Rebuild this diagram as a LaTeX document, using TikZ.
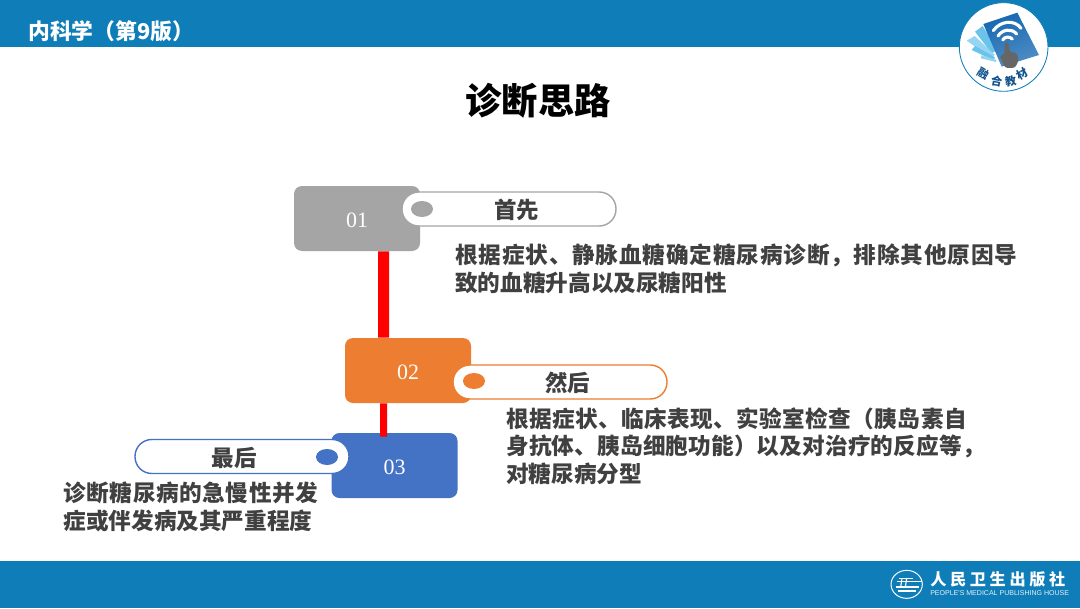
\documentclass[tikz,border=0pt]{standalone}
\usepackage{fontspec}
\setmainfont{Noto Sans CJK SC}
\newfontfamily\numfont{Liberation Serif}
\newfontfamily\latinfont{Liberation Sans}
\usetikzlibrary{arrows.meta,positioning,calc,shapes.geometric}
\definecolor{bandblue}{RGB}{15,125,184}
\definecolor{txtgray}{RGB}{64,64,64}
\definecolor{stepgray}{RGB}{165,165,165}
\definecolor{steporange}{RGB}{237,125,49}
\definecolor{stepblue}{RGB}{68,114,196}
\definecolor{bookblue}{RGB}{22,104,178}
\definecolor{fanblue}{RGB}{105,195,235}
\newcommand{\stepnum}[1]{\raisebox{-6.7pt}[0pt][0pt]{#1}}
\newcommand{\wideline}[2]{{\addfontfeatures{LetterSpace=#1}#2}}
\begin{document}
\begin{tikzpicture}[
    band/.style={fill=bandblue, draw=none},
    stepbox/.style={rounded corners=0.2cm, minimum width=3.15cm, minimum height=1.625cm, inner sep=0pt, text=white, font=\numfont\fontsize{15.6}{18}\selectfont},
    pill/.style={draw=#1, fill=white, line width=1pt, rounded corners=0.42cm, minimum width=5.35cm, minimum height=0.85cm, inner sep=0pt},
    dot/.style={ellipse, fill=#1, minimum width=0.55cm, minimum height=0.4cm, inner sep=0pt},
    pilltext/.style={text=txtgray, inner sep=0pt, font=\bfseries\fontsize{16}{19}\selectfont},
    bodytext/.style={text=txtgray, inner sep=0pt, align=left, anchor=west, font=\bfseries\fontsize{16.1}{19.7}\selectfont},
    logotext/.style={text=bookblue!80!black, inner sep=0pt, font=\bfseries\fontsize{8}{9}\selectfont},
    link/.style={draw=red, line width=#1}
]
    \useasboundingbox (0,0) rectangle (27,15.2);
    \fill[white] (0,0) rectangle (27,15.2);
    \fill[band] (0,14.025) rectangle (27,15.2);
    \fill[band] (0,0) rectangle (27,1.18);

    \node[text=white, inner sep=0pt, anchor=west, font=\bfseries\fontsize{15.5}{18}\selectfont] (course) at (0.7,14.425) {内科学（第9版）};
    \node[inner sep=0pt, font=\bfseries\fontsize{25.8}{30}\selectfont] (title) at (13.45,12.675) {诊断思路};

    \node[stepbox, fill=stepgray] (box1) at (8.925,9.7375) {\stepnum{01}};
    \node[stepbox, fill=steporange] (box2) at (10.2,5.9375) {\stepnum{02}};
    \node[stepbox, fill=stepblue] (box3) at (9.8625,3.5625) {\stepnum{03}};

    \draw[link=0.275cm] ([xshift=0.6625cm]box1.south) -- ([xshift=-0.6125cm]box2.north);
    \draw[link=0.175cm] ([xshift=-0.6125cm]box2.south) -- ([xshift=-0.275cm,yshift=-0.1cm]box3.north);

    \node[pill=stepgray] (pill1) at (12.725,9.975) {};
    \node[pill=steporange] (pill2) at (14,5.65) {};
    \node[pill=stepblue] (pill3) at (6.05,3.7875) {};

    \node[dot=stepgray] (dot1) at (10.55,9.975) {};
    \node[dot=steporange] (dot2) at (11.85,5.675) {};
    \node[dot=stepblue] (dot3) at (8.175,3.775) {};

    \node[pilltext] (label1) at ([xshift=0.19cm,yshift=-0.025cm]pill1.center) {首先};
    \node[pilltext] (label2) at ([xshift=0.19cm,yshift=-0.025cm]pill2.center) {然后};
    \node[pilltext] (label3) at ([xshift=-0.19cm,yshift=-0.025cm]pill3.center) {最后};

    \node[bodytext] (text1) at (11.375,8.475) {\wideline{3.6}{根据症状、静脉血糖确定糖尿病诊断，排除其他原因导}\\致的血糖升高以及尿糖阳性};
    \node[bodytext] (text2) at (12.65,4.05) {\wideline{1.8}{根据症状、临床表现、实验室检查（胰岛素自}\\\wideline{0.7}{身抗体、胰岛细胞功能）以及对治疗的反应等，}\\对糖尿病分型};
    \node[bodytext] (text3) at (1.58,2.53) {\wideline{2.5}{诊断糖尿病的急慢性并发}\\症或伴发病及其严重程度};

    \begin{scope}[shift={(23.5,15.2)}, x=0.008333cm, y=-0.008333cm]
        \fill[white, draw=bandblue, line width=0.6pt] (191,141) circle (133);
        \fill[fanblue] (105,95) -- (128,78) -- (172,150) -- (155,160) -- cycle;
        \fill[fanblue!70!white] (80,122) -- (104,108) -- (165,165) -- (152,172) -- cycle;
        \fill[fanblue] (95,150) -- (105,138) -- (165,172) -- (160,180) -- cycle;
        \fill[fanblue!70!white] (122,175) -- (125,165) -- (170,180) -- (168,186) -- cycle;
        \shade[left color=bookblue, right color=bookblue!75!white, shading angle=20] (130,72) -- (232,38) -- (297,165) -- (185,200) -- cycle;
        \draw[white, line width=2.2pt, line cap=round] (160,92) .. controls (180,62) and (225,58) .. (243,85);
        \draw[white, line width=2.2pt, line cap=round] (174,108) .. controls (187,88) and (215,84) .. (230,102);
        \draw[white, line width=2.2pt, line cap=round] (188,120) .. controls (194,110) and (208,108) .. (217,117);
        \fill[gray!80!black, rounded corners=2pt] (194,126) -- (206,126) -- (208,155) -- (232,160) -- (236,182) -- (225,204) -- (195,204) -- (178,165) -- (193,165) -- cycle;
        \node[logotext, rotate=-30] (logoa) at (130,222) {融};
        \node[logotext, rotate=-10] (logob) at (170,244) {合};
        \node[logotext, rotate=10] (logoc) at (212,244) {教};
        \node[logotext, rotate=30] (logod) at (247,222) {材};
    \end{scope}

    \begin{scope}[shift={(22,1.325)}, x=0.008333cm, y=-0.008333cm]
        \draw[white, line width=0.7pt] (80,88) ellipse (47 and 42);
        \draw[white, line width=0.8pt] (52,80) -- (125,80);
        \draw[white, line width=0.8pt] (48,96) -- (118,96);
        \draw[white, line width=0.8pt] (56,70) -- (100,70);
        \draw[white, line width=0.8pt] (55,108) -- (108,108);
        \draw[white, line width=0.8pt] (66,70) -- (62,96);
        \draw[white, line width=0.8pt] (80,70) -- (76,96);
        \node[text=white, inner sep=0pt, anchor=west, font=\bfseries\fontsize{11.5}{14}\selectfont] (publisher) at (150,72) {人\hspace{2.6pt}民\hspace{2.6pt}卫\hspace{2.6pt}生\hspace{2.6pt}出\hspace{2.6pt}版\hspace{2.6pt}社};
        \node[text=white!90!bandblue, inner sep=0pt, anchor=west, font=\latinfont\fontsize{5}{6}\selectfont] (publisheren) at (150,115) {PEOPLE'S MEDICAL PUBLISHING HOUSE};
    \end{scope}
\end{tikzpicture}
\end{document}
